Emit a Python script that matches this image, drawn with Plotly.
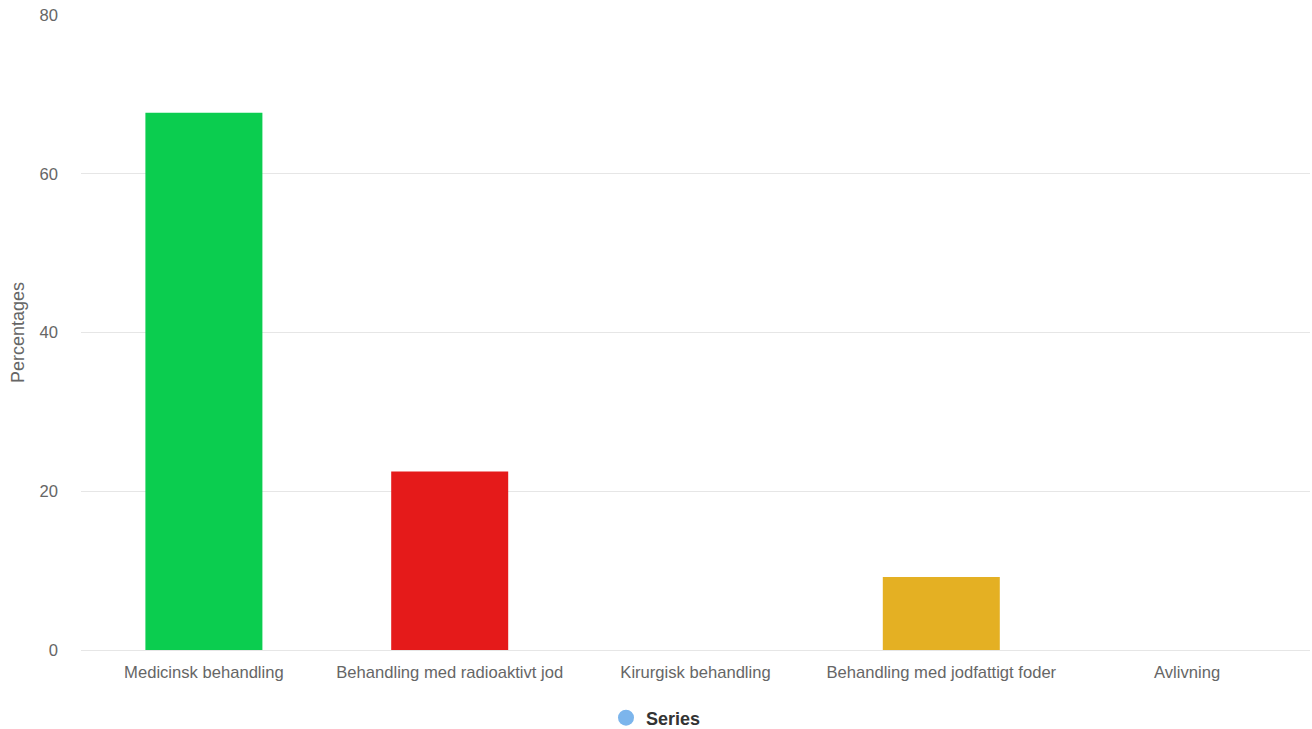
import plotly.graph_objects as go

categories = [
    "Medicinsk behandling",
    "Behandling med radioaktivt jod",
    "Kirurgisk behandling",
    "Behandling med jodfattigt foder",
    "Avlivning",
]
values = [67.7, 22.5, 0, 9.2, 0]
bar_colors = ["#0bcd4f", "#e51a1a", "#7cb5ec", "#e4b023", "#7cb5ec"]
series_name = "Series"
series_color = "#7cb5ec"
y_ticks = [0, 20, 40, 60, 80]

fig = go.Figure()
fig.add_trace(go.Bar(
    x=categories,
    y=values,
    marker=dict(color=bar_colors, line=dict(width=0)),
    width=0.476,
    showlegend=False,
    hoverinfo="x+y",
))
# legend entry for the series
fig.add_trace(go.Scatter(
    x=[None], y=[None],
    mode="markers",
    name=series_name,
    marker=dict(color=series_color, size=17, symbol="circle"),
    showlegend=True,
))

fig.update_layout(
    width=1312, height=729,
    margin=dict(l=81, r=2, t=15, b=79, autoexpand=False),
    paper_bgcolor="white",
    plot_bgcolor="white",
    font=dict(family="Liberation Sans, Arial, sans-serif", size=16, color="#666666"),
    showlegend=True,
    legend=dict(
        orientation="h",
        xref="container", yref="container",
        x=0.5, xanchor="center",
        y=11 / 729, yanchor="middle",
        font=dict(size=18, color="#333333", weight="bold"),
        itemsizing="trace",
    ),
    xaxis=dict(
        range=[-0.5, 4.5],
        showgrid=False,
        showline=True,
        linecolor="#e6e6e6",
        linewidth=1,
        ticks="",
        tickfont=dict(size=16.6, color="#666666"),
        ticklabelstandoff=7,
    ),
    yaxis=dict(
        range=[0, 80],
        tickvals=y_ticks,
        showgrid=True,
        gridcolor="#e6e6e6",
        gridwidth=1,
        zeroline=False,
        ticks="",
        tickfont=dict(size=16.6, color="#666666"),
        ticklabelstandoff=22,
        title=dict(text="Percentages", font=dict(size=18, color="#666666"), standoff=10),
    ),
    bargap=0.5,
)

fig.write_html("out.html")
